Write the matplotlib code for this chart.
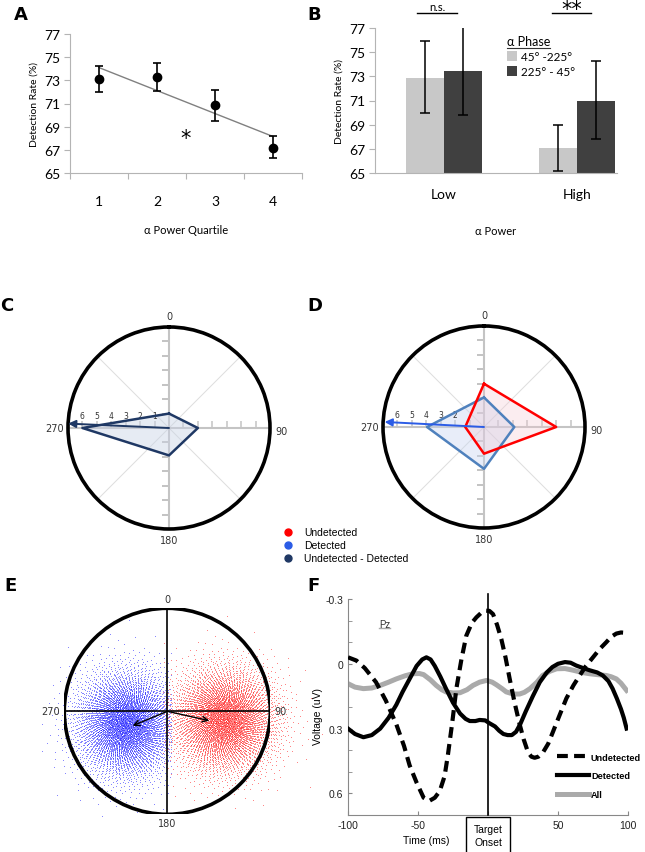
import numpy as np
import matplotlib
matplotlib.use('Agg')
import matplotlib.pyplot as plt
from matplotlib.patches import Circle
from matplotlib.lines import Line2D
import matplotlib.transforms as mtransforms

# ---------------- data ----------------
# A: detection rate per alpha power quartile
quartiles = [1, 2, 3, 4]
quart_rate = [73.1, 73.3, 70.85, 67.2]
quart_lo = [72.0, 72.1, 69.5, 66.3]
quart_hi = [74.2, 74.5, 72.2, 68.2]
trend_x = [1, 4]
trend_y = [74.1, 68.15]

# B: detection rate by power x phase
power_levels = ['Low', 'High']
phase_labels = ['45\u00b0 -225\u00b0', '225\u00b0 - 45\u00b0']
phase_rate = [[72.9, 67.1], [73.45, 71.0]]
phase_lo = [[70.0, 65.2], [69.8, 67.8]]
phase_hi = [[75.9, 69.0], [77.1, 74.3]]
sig_marks = ['n.s.', '**']

# C / D: phase histograms (compass degrees, radial counts)
rose_angles = [0, 90, 180, 270]
diff_r = [1.0, 2.0, 1.9, 6.0]
det_r = [2.05, 2.1, 2.9, 3.95]
undet_r = [3.0, 5.0, 1.85, 1.3]
diff_vec = [272.5, 7.0]
det_vec = [272.9, 6.9]
undet_vec = [92.8, 7.05]
rose_labels = ['Undetected', 'Detected', 'Undetected - Detected']
compass_labels = ['0', '90', '180', '270']

# E: single-trial phase clouds, summarised (circle radius = 1)
cloud_mean_x = [-0.40, 0.55]
cloud_mean_y = [-0.12, -0.08]
cloud_sd_x = [0.24, 0.25]
cloud_sd_y = [0.25, 0.25]
cloud_n = [6000, 6000]
mean_vec_x = [-0.336, 0.408]
mean_vec_y = [-0.14, -0.091]

# F: ERP at Pz
t_und = [-100, -94, -88, -80, -73, -65.5, -60, -56, -51, -46, -42, -38, -34.5, -31, -28.6,
         -25.5, -22.6, -19, -15.5, -11.5, -8.3, -5, -1.5, 1, 3.6, 6.5, 9.5, 12.5, 15.5, 19,
         22.6, 25.5, 28.6, 31, 33.3, 36, 39.3, 43, 46.4, 51, 56, 61, 65.5, 70, 75, 80, 84.5,
         88, 91.7, 95, 99]
v_und = [-0.03, -0.015, 0.02, 0.085, 0.17, 0.28, 0.38, 0.47, 0.55, 0.62, 0.635, 0.62, 0.59,
         0.52, 0.42, 0.27, 0.115, -0.02, -0.13, -0.19, -0.215, -0.235, -0.246, -0.245, -0.23,
         -0.18, -0.115, -0.03, 0.07, 0.18, 0.28, 0.35, 0.41, 0.43, 0.435, 0.43, 0.41, 0.37,
         0.315, 0.24, 0.16, 0.10, 0.054, 0.01, -0.03, -0.07, -0.10, -0.125, -0.14, -0.145, -0.143]
t_det = [-100, -95, -89, -83, -77, -71, -65.5, -61, -56, -51, -47, -44, -41, -38, -34, -30,
         -25, -20, -16, -13, -9, -6, -2, 1, 5, 8, 11, 14, 17, 20, 23, 27, 32, 37, 42, 46, 50,
         55, 59, 63, 68, 72.6, 78, 82, 86, 89, 92, 95, 97, 99]
v_det = [0.30, 0.325, 0.34, 0.33, 0.30, 0.25, 0.19, 0.13, 0.07, 0.01, -0.02, -0.03, -0.02,
         0.01, 0.06, 0.115, 0.18, 0.23, 0.255, 0.265, 0.265, 0.26, 0.262, 0.275, 0.29, 0.31,
         0.325, 0.33, 0.33, 0.315, 0.28, 0.22, 0.15, 0.085, 0.04, 0.015, 0.0, -0.008, -0.005,
         0.008, 0.02, 0.03, 0.04, 0.054, 0.08, 0.115, 0.16, 0.21, 0.25, 0.30]
t_all = [-100, -95, -89, -83, -77, -71, -65.5, -59, -53.6, -49, -46, -41, -37, -33, -30, -25,
         -20, -15, -10.7, -6, -1, 3, 6, 10, 13, 18, 22.6, 26, 30, 35, 39, 44, 49, 55, 61, 67,
         72.6, 78, 84.5, 88, 91.7, 95, 99]
v_all = [0.092, 0.108, 0.115, 0.112, 0.10, 0.085, 0.07, 0.055, 0.046, 0.045, 0.05, 0.075, 0.10,
         0.12, 0.13, 0.135, 0.134, 0.12, 0.10, 0.085, 0.077, 0.085, 0.097, 0.115, 0.13, 0.14,
         0.14, 0.132, 0.115, 0.085, 0.054, 0.035, 0.023, 0.022, 0.03, 0.04, 0.046, 0.05, 0.054,
         0.06, 0.07, 0.09, 0.123]
erp_labels = ['Undetected', 'Detected', 'All']

fig = plt.figure(figsize=(6.45, 8.53), dpi=100)
fig.patch.set_facecolor('white')

excel_font = ['Lato', 'DejaVu Sans']
axis_grey = '#b4b4b4'

def panel_letter(x, y, s):
    fig.text(x / 645, 1 - y / 853, s, fontsize=13, fontweight='bold',
             family='DejaVu Sans', ha='left', va='center')

# ---------------- A ----------------
axA = fig.add_axes([70 / 645, 1 - 174 / 853, 232 / 645, 139 / 853])
axA.plot(trend_x, trend_y, color='#808080', lw=1.0, zorder=1)
qr = np.array(quart_rate)
axA.errorbar(quartiles, qr, yerr=[qr - np.array(quart_lo), np.array(quart_hi) - qr],
             fmt='o', color='black', ms=6, capsize=3, elinewidth=1.2, capthick=1.2, zorder=3)
axA.text(2.5, 68.0, '*', fontsize=15, ha='center', va='center')
axA.set_xlim(0.5, 4.5)
axA.set_ylim(65, 77)
axA.set_yticks([65, 67, 69, 71, 73, 75, 77])
axA.set_xticks([0.5, 1.5, 2.5, 3.5, 4.5])
axA.set_xticklabels([])
axA.set_xticks(quartiles, minor=True)
axA.set_xticklabels([str(q) for q in quartiles], minor=True, family=excel_font, fontsize=10)
axA.tick_params(axis='x', which='minor', length=0, pad=16)
axA.tick_params(axis='x', which='major', length=4, color=axis_grey)
axA.tick_params(axis='y', length=4, color=axis_grey, labelsize=10, pad=3)
for lab in axA.get_yticklabels():
    lab.set_family(excel_font)
for s in ['top', 'right']:
    axA.spines[s].set_visible(False)
for s in ['left', 'bottom']:
    axA.spines[s].set_color(axis_grey)
axA.set_ylabel('Detection Rate (%)', family=excel_font, fontsize=7.5, labelpad=4)
axA.set_xlabel('\u03b1 Power Quartile', family=excel_font, fontsize=8, labelpad=12)

# ---------------- B ----------------
axB = fig.add_axes([375 / 645, 1 - 174 / 853, 242 / 645, 145 / 853])
xb = np.arange(len(power_levels))
bw = 0.286
bar_cols = ['#c8c8c8', '#404040']
handles = []
for i in range(2):
    pos = xb + (i - 0.5) * bw
    vals = np.array(phase_rate[i])
    h = axB.bar(pos, vals, width=bw, color=bar_cols[i], label=phase_labels[i], zorder=1)
    handles.append(h)
    axB.errorbar(pos, vals, yerr=[vals - np.array(phase_lo[i]), np.array(phase_hi[i]) - vals],
                 fmt='none', ecolor='black', capsize=3.5, elinewidth=1.1, capthick=1.1, zorder=3)
axB.set_xlim(-0.519, 1.30)
axB.set_ylim(65, 77)
axB.set_yticks([65, 67, 69, 71, 73, 75, 77])
axB.set_xticks(xb)
axB.set_xticklabels(power_levels, family=excel_font, fontsize=10)
axB.tick_params(axis='x', length=0, pad=11)
axB.tick_params(axis='y', length=4, color=axis_grey, labelsize=10, pad=3)
for lab in axB.get_yticklabels():
    lab.set_family(excel_font)
for s in ['top', 'right']:
    axB.spines[s].set_visible(False)
for s in ['left', 'bottom']:
    axB.spines[s].set_color(axis_grey)
axB.set_ylabel('Detection Rate (%)', family=excel_font, fontsize=7.5, labelpad=4)
axB.set_xlabel('\u03b1 Power', family=excel_font, fontsize=8, labelpad=18)
axB.text(-0.05, 78.3, sig_marks[0], ha='center', va='bottom', family=excel_font, fontsize=8,
         clip_on=False)
axB.plot([-0.203, 0.098], [78.25, 78.25], color='black', lw=1, clip_on=False)
axB.text(0.96, 77.75, sig_marks[1], ha='center', va='bottom', fontsize=15, clip_on=False)
axB.plot([0.812, 1.105], [78.25, 78.25], color='black', lw=1, clip_on=False)
legB = axB.legend(handles=handles, title='\u03b1 Phase', loc='upper left',
                  bbox_to_anchor=(0.52, 0.995), frameon=False, handlelength=0.9,
                  handleheight=0.9, handletextpad=0.3, borderpad=0, labelspacing=0.35,
                  alignment='left', prop={'family': excel_font, 'size': 8.5},
                  title_fontproperties={'family': excel_font, 'size': 9})

# ---------------- C / D ----------------
def rose_axes(cx, cy):
    ax = fig.add_axes([(cx - 101) / 645, 1 - (cy + 101) / 853, 202 / 645, 202 / 853],
                      projection='polar')
    ax.set_theta_zero_location('N')
    ax.set_theta_direction(-1)
    ax.set_rlim(0, 7)
    ax.grid(False)
    ax.set_yticks([])
    ax.set_xticks([])
    ax.spines['polar'].set_linewidth(2.6)
    ax.spines['polar'].set_color('black')
    for a in [45, 135, 225, 315]:
        ax.plot([np.deg2rad(a)] * 2, [0, 7], color='#dddddd', lw=0.7, zorder=1)
    for a in rose_angles:
        ax.plot([np.deg2rad(a)] * 2, [0, 7], color='#c4c4c4', lw=1.5, zorder=1)
        mk = 2 if a in (90, 270) else 0
        ax.plot([np.deg2rad(a)] * 6, np.arange(1, 7), ls='none', marker=mk, ms=5,
                mew=1.1, color='#c4c4c4', zorder=1)
    offs = [(0, 4, 'center', 'bottom'), (4, -2, 'left', 'center'),
            (0, -4, 'center', 'top'), (-3, 0, 'right', 'center')]
    for a, lab, (dx, dy, ha, va) in zip(rose_angles, compass_labels, offs):
        ax.annotate(lab, xy=(np.deg2rad(a), 7), xytext=(dx, dy), textcoords='offset points',
                    ha=ha, va=va, fontsize=7, color='#333333', annotation_clip=False)
    return ax

def rose_poly(ax, r, edge, face, alpha):
    th = np.deg2rad(rose_angles + [rose_angles[0]])
    rr = list(r) + [r[0]]
    ax.fill(th, rr, color=face, alpha=alpha, zorder=2, lw=0)
    ax.plot(th, rr, color=edge, lw=1.8, zorder=4)

def rose_arrow(ax, vec, col):
    ax.annotate('', xy=(np.deg2rad(vec[0]), vec[1]), xytext=(0, 0),
                arrowprops=dict(arrowstyle='-|>', color=col, lw=1.4, mutation_scale=11,
                                shrinkA=0, shrinkB=0), zorder=5)

def rose_numbers(ax, nums):
    for n in nums:
        ax.annotate(str(n), xy=(np.deg2rad(270), n), xytext=(0, 9),
                    textcoords='offset points', ha='center', va='center', fontsize=5.5,
                    color='#333333', zorder=3)

navy = '#1f3864'
steel = '#4f81bd'
axC = rose_axes(169, 429)
rose_poly(axC, diff_r, navy, '#c9d3e6', 0.45)
rose_arrow(axC, diff_vec, navy)
rose_numbers(axC, [1, 2, 3, 4, 5, 6])

axD = rose_axes(484, 428)
rose_poly(axD, det_r, steel, '#c6d4f0', 0.4)
rose_poly(axD, undet_r, '#ff0000', '#f4c6d0', 0.3)
rose_arrow(axD, det_vec, '#2b5ce6')
rose_arrow(axD, undet_vec, '#ff0000')
rose_numbers(axD, [2, 3, 4, 5, 6])

leg_cols = ['#ff0000', '#2b5ce6', navy]
for i, (lab, col) in enumerate(zip(rose_labels, leg_cols)):
    y = 1 - (533 + 13 * i) / 853
    fig.text(304 / 645, y, lab, fontsize=7.5, family='Liberation Sans', va='center')
    fig.lines.append(Line2D([288 / 645], [y], marker='o', ms=5, color=col, ls='none',
                           transform=fig.transFigure))

# ---------------- E ----------------
axE = fig.add_axes([64.3 / 645, 1 - 815.3 / 853, 206 / 645, 206 / 853])
axE.set_xlim(-1, 1)
axE.set_ylim(-1, 1)
axE.set_aspect('equal')
axE.axis('off')

def low_discrepancy_normal(n, shift):
    # deterministic R2 sequence mapped to a normal cloud (cloud texture only)
    g = 1.32471795724474602596
    k = np.arange(1, n + 1) + shift
    u1 = (0.5 + k / g) % 1.0
    u2 = (0.5 + k / g ** 2) % 1.0
    rad = np.sqrt(-2 * np.log(np.clip(u1, 1e-9, 1)))
    return rad * np.cos(2 * np.pi * u2), rad * np.sin(2 * np.pi * u2)

cloud_cols = ['#0000ff', '#ff0000']
for i in range(2):
    zx, zy = low_discrepancy_normal(cloud_n[i], 1000 * i)
    px = cloud_mean_x[i] + cloud_sd_x[i] * zx
    py = cloud_mean_y[i] + cloud_sd_y[i] * zy
    keep = px * np.sign(cloud_mean_x[i]) > -0.04
    axE.scatter(px[keep], py[keep], s=0.4, color=cloud_cols[i], alpha=0.45, lw=0,
                clip_on=False, zorder=1)
axE.plot([-1, 1], [0, 0], color='black', lw=1.2, zorder=2)
axE.plot([0, 0], [-1, 1], color='black', lw=1.2, zorder=2)
axE.add_patch(Circle((0, 0), 1, fill=False, lw=2.6, ec='black', zorder=3))
for i in range(2):
    axE.annotate('', xy=(mean_vec_x[i], mean_vec_y[i]), xytext=(0, 0),
                 arrowprops=dict(arrowstyle='->', color='black', lw=1.0, mutation_scale=10,
                                 shrinkA=0, shrinkB=0), zorder=4)
for s, x, y, ha, va in [('0', 0, 1.04, 'center', 'bottom'), ('90', 1.04, 0, 'left', 'center'),
                        ('180', 0, -1.04, 'center', 'top'), ('270', -1.04, 0, 'right', 'center')]:
    axE.text(x, y, s, ha=ha, va=va, fontsize=7, color='#333333')

# ---------------- F ----------------
axF = fig.add_axes([348 / 645, 1 - 816 / 853, 280 / 645, 216 / 853])
arial = ['Liberation Sans', 'DejaVu Sans']
l_all, = axF.plot(t_all, v_all, color='#aaaaaa', lw=3.6, zorder=2)
l_det, = axF.plot(t_det, v_det, color='black', lw=3.0, zorder=3)
l_und, = axF.plot(t_und, v_und, color='black', lw=3.0, ls=(0, (2.6, 1.5)), zorder=4)
axF.set_xlim(-100, 100)
axF.set_ylim(0.7, -0.3)
axF.plot([0, 0], [0.7, -0.325], color='black', lw=1.2, clip_on=False, zorder=5)
axF.set_xticks([-100, -50, 0, 50, 100])
axF.set_xticklabels(['-100', '-50', '', '50', '100'], family=arial)
axF.set_yticks([-0.3, 0, 0.3, 0.6])
axF.set_yticklabels(['-0.3', '0', '0.3', '0.6'], family=arial)
axF.set_yticks(np.arange(-0.3, 0.71, 0.1), minor=True)
axF.tick_params(which='both', direction='in', length=3, color='#888888', labelsize=7.5,
                labelcolor='#222222')
axF.tick_params(which='minor', length=3)
for s in ['top', 'right']:
    axF.spines[s].set_visible(False)
for s in ['left', 'bottom']:
    axF.spines[s].set_color('#888888')
    axF.spines[s].set_linewidth(0.8)
axF.text(-74, -0.185, 'Pz', fontsize=7, family=arial, ha='center', va='center', color='#333333')
axF.plot([-78, -70], [-0.165, -0.165], color='#aaaaaa', lw=1)
trans = mtransforms.blended_transform_factory(axF.transData, axF.transAxes)
axF.text(-44, -0.115, 'Time (ms)', transform=trans, fontsize=7.5, family=arial,
         ha='center', va='center')
axF.text(0, -0.095, 'Target\nOnset', transform=trans, fontsize=7.5, family=arial,
         ha='center', va='center', linespacing=1.3,
         bbox=dict(boxstyle='square,pad=0.75', fc='white', ec='black', lw=1))
fig.text(318 / 645, 1 - 717 / 853, 'Voltage (uV)', rotation=90, fontsize=7.5, family=arial,
         ha='center', va='center')
axF.legend([l_und, l_det, l_all], erp_labels, loc='upper left', bbox_to_anchor=(0.73, 0.31),
           frameon=False, handlelength=3.5, handletextpad=0.2, borderpad=0, labelspacing=1.05,
           prop={'family': ['Liberation Sans Narrow', 'Liberation Sans'], 'weight': 'bold',
                 'size': 6.6})

panel_letter(14, 15, 'A')
panel_letter(307, 15, 'B')
panel_letter(0, 306, 'C')
panel_letter(307, 306, 'D')
panel_letter(4, 586, 'E')
panel_letter(307, 586, 'F')

# underline the legend title in B
fig.canvas.draw()
tb = legB.get_title().get_window_extent().transformed(fig.transFigure.inverted())
fig.lines.append(Line2D([tb.x0, tb.x1], [tb.y0 - 0.002, tb.y0 - 0.002], color='#333333',
                        lw=0.8, transform=fig.transFigure))

fig.savefig('out.png', dpi=100, facecolor='white')
